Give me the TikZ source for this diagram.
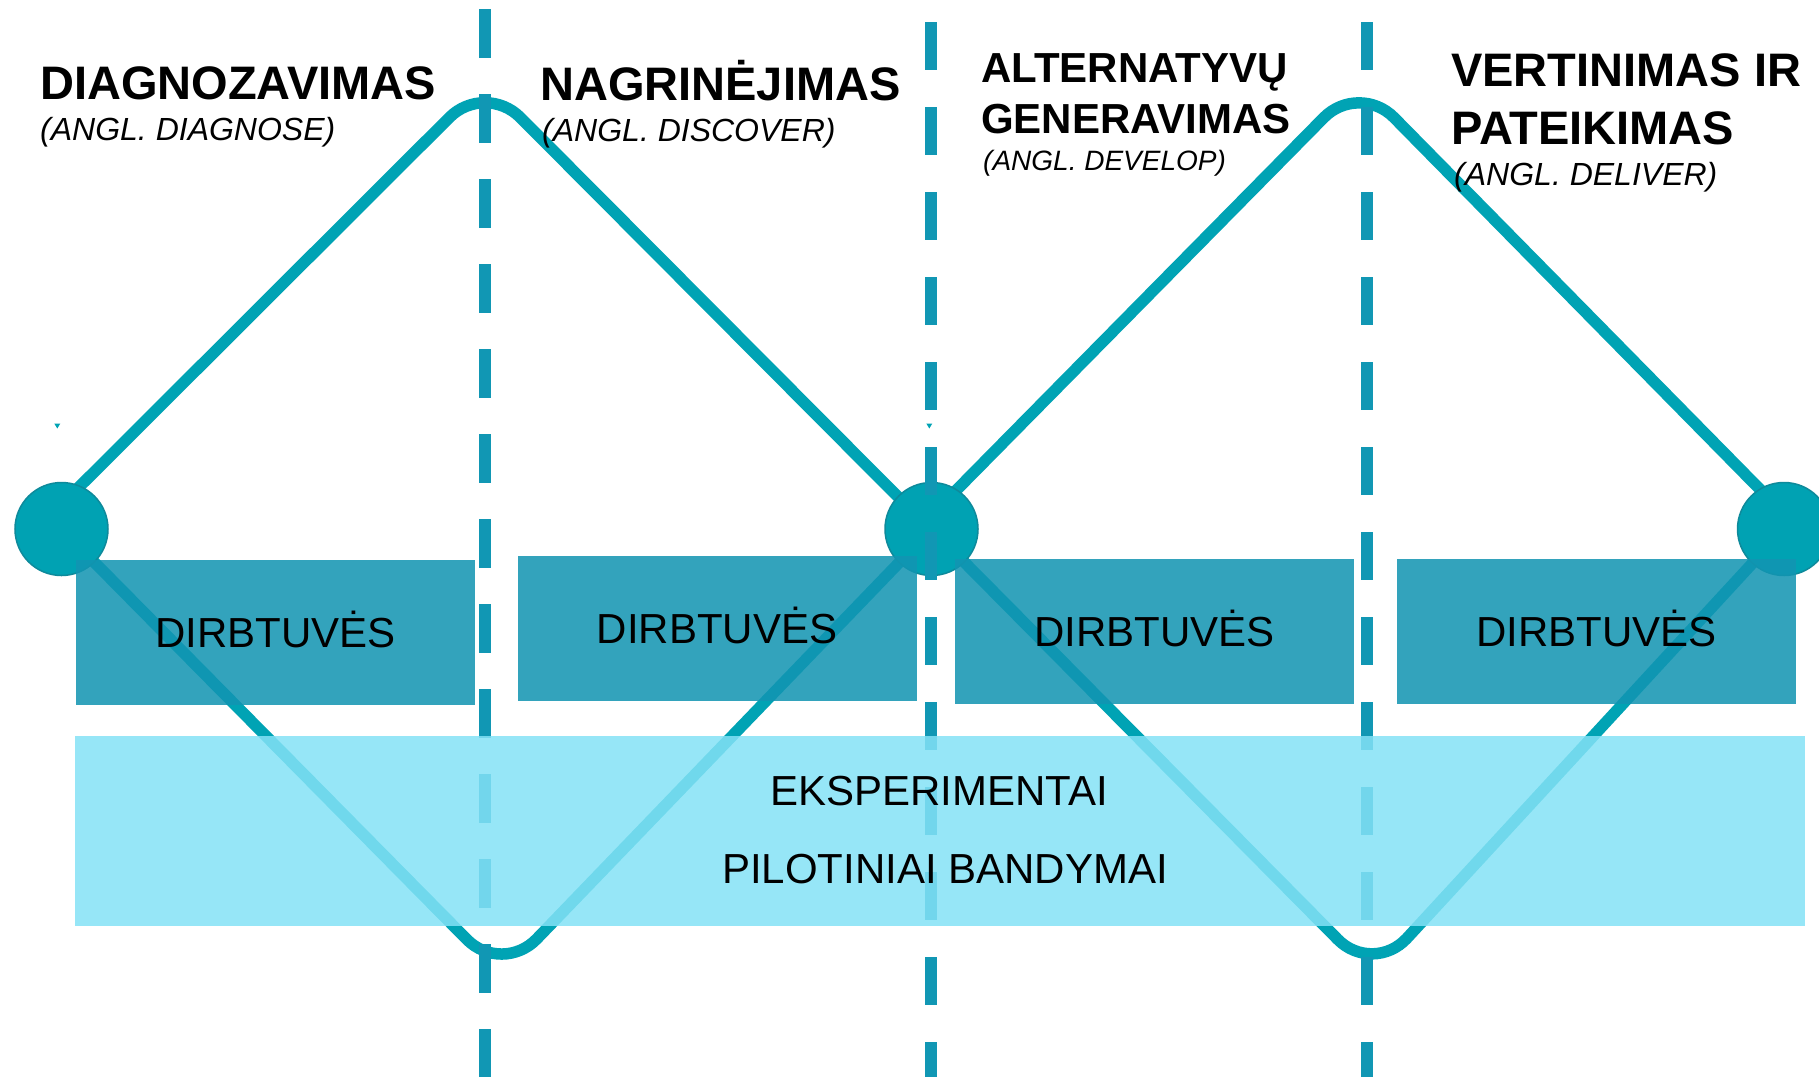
\documentclass[tikz,border=0pt]{standalone}
\usepackage{fontspec}
\setmainfont{Liberation Sans}
\definecolor{zig}{HTML}{00A3B4}
\definecolor{dashc}{HTML}{1197B4}
\definecolor{circf}{HTML}{00A2B3}
\definecolor{circd}{HTML}{0E8A9B}
\definecolor{darkb}{RGB}{18,149,178}
\definecolor{lightb}{RGB}{132,226,246}
\begin{document}
\begin{tikzpicture}[x=1pt,y=-1pt,
  zigline/.style={draw=zig, line width=11.5pt, rounded corners=50pt},
  divline/.style={draw=dashc, line width=12pt, dash pattern=on 48.3pt off 36.7pt},
  dot/.style={circle, fill=circf, draw=circd, line width=1.5pt, minimum size=93pt, inner sep=0pt},
  workbox/.style={fill=darkb, fill opacity=0.86, text opacity=1, minimum width=399pt, minimum height=145pt, inner sep=0pt, font=\fontsize{42}{50}\selectfont, text height=30.1pt, text depth=0pt},
  expbox/.style={fill=lightb, fill opacity=0.85, minimum width=1730pt, minimum height=190pt, inner sep=0pt},
  bodytext/.style={anchor=base, inner sep=0pt, font=\fontsize{42}{50}\selectfont},
  headbig/.style={anchor=base west, inner sep=0pt, font=\fontsize{47}{56}\selectfont\bfseries},
  headmid/.style={anchor=base west, inner sep=0pt, font=\fontsize{42}{50}\selectfont\bfseries},
  subit/.style={anchor=base west, inner sep=0pt, font=\fontsize{32}{38}\selectfont\itshape},
  subsmall/.style={anchor=base west, inner sep=0pt, font=\fontsize{28}{34}\selectfont\itshape},
  tick/.style={fill=zig}
]
\useasboundingbox (0,0) rectangle (1819,1077);
\fill[white] (0,0) rectangle (1819,1077);

% circle centres and path points
\coordinate (k1) at (61.5,529);
\coordinate (k2) at (931.5,529);
\coordinate (k3) at (1784,529);
\coordinate (p1) at (485,82);
\coordinate (v1) at (502,975);
\coordinate (p2) at (1359,82);
\coordinate (v2) at (1373,975);
\coordinate (a1) at (37,529);
\coordinate (a2) at (930,529);
\coordinate (a3) at (918,529);
\coordinate (a4) at (1799,529);

% zigzag lines
\draw[zigline] (a1) -- (p1) -- (a2);
\draw[zigline] (k1) -- (v1) -- (k2);
\draw[zigline] (a3) -- (p2) -- (a4);
\draw[zigline] (k2) -- (v2) -- (k3);

% circles
\node[dot] (c1) at (k1) {};
\node[dot] (c2) at (k2) {};
\node[dot] (c3) at (k3) {};

% dashed dividers
\coordinate (d1t) at (485,9.3);
\coordinate (d1b) at (485,1077);
\coordinate (d2t) at (930.5,22);
\coordinate (d2b) at (930.5,1077);
\coordinate (d3t) at (1367,22);
\coordinate (d3b) at (1367,1077);
\draw[divline] (d1t) -- (d1b);
\draw[divline] (d2t) -- (d2b);
\draw[divline] (d3t) -- (d3b);

% tiny marks
\fill[tick] (54.3,423.5) -- (60.3,423.5) -- (57.3,428.5) -- cycle;
\fill[tick] (926.3,423.5) -- (932.3,423.5) -- (929.3,428.5) -- cycle;

% workshop boxes
\node[workbox] (b1) at (275.5,632) {DIRBTUVĖS};
\node[workbox] (b2) at (717,628.5) {DIRBTUVĖS};
\node[workbox] (b3) at (1154.5,631) {DIRBTUVĖS};
\node[workbox] (b4) at (1596.5,631) {DIRBTUVĖS};

% experiments box
\node[expbox] (ex) at (940,831) {};
\node[bodytext] (ex1) at (939,805.5) {EKSPERIMENTAI};
\node[bodytext] (ex2) at (945,883) {PILOTINIAI BANDYMAI};

% headings
\node[headbig] (h1) at (40,99.2) {DIAGNOZAVIMAS};
\node[subit] (s1) at (40,140.3) {(ANGL. DIAGNOSE)};
\node[headbig] (h2) at (540,100) {NAGRINĖJIMAS};
\node[subit] (s2) at (542,141) {(ANGL. DISCOVER)};
\node[headmid] (h3) at (981,82) {ALTERNATYVŲ};
\node[headmid] (h3b) at (981,133.6) {GENERAVIMAS};
\node[subsmall] (s3) at (983,170) {(ANGL. DEVELOP)};
\node[headbig] (h4) at (1451,86) {VERTINIMAS IR};
\node[headbig] (h4b) at (1451,144.6) {PATEIKIMAS};
\node[subit] (s4) at (1454,185) {(ANGL. DELIVER)};
\end{tikzpicture}
\end{document}
